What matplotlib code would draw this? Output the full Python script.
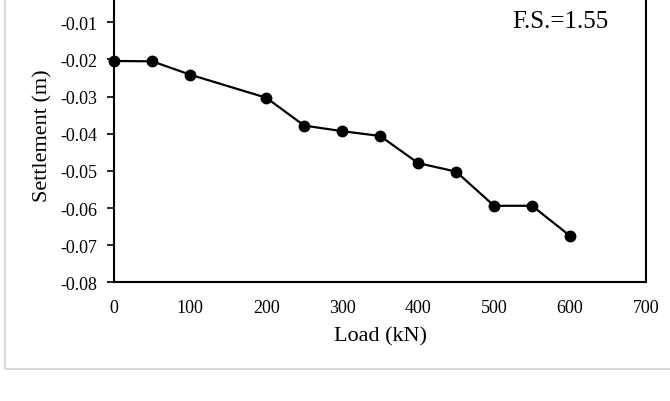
import numpy as np
import matplotlib
matplotlib.use("Agg")
import matplotlib.pyplot as plt
from matplotlib.patches import Rectangle

# load test data
load_kn = [0, 50, 100, 200, 250, 300, 350, 400, 450, 500, 550, 600]
settlement_m = [-0.0204, -0.0205, -0.0241, -0.0303, -0.0378, -0.0393,
                -0.0406, -0.0479, -0.0502, -0.0594, -0.0594, -0.0675]
x_ticks = [0, 100, 200, 300, 400, 500, 600, 700]
y_ticks = [-0.08, -0.07, -0.06, -0.05, -0.04, -0.03, -0.02, -0.01]
fs_label = "F.S.=1.55"

plt.rcParams['font.family'] = ['Liberation Serif', 'DejaVu Serif']

W, H = 670, 402
fig = plt.figure(figsize=(W / 100, H / 100), dpi=100)

# light grey frame around the chart area (partly cropped, like the source)
frame = Rectangle((4.5 / W, 32 / H), 1.2, 1.2, transform=fig.transFigure,
                  facecolor='none', edgecolor='#d9d9d9', linewidth=1.5, zorder=-5)
fig.patches.append(frame)

# axes top (y=0) sits above the picture edge, as in the cropped source
left, right, bottom, top = 114.3, 646.0, 283.3, -13.8
ax = fig.add_axes([left / W, 1 - bottom / H, (right - left) / W, (bottom - top) / H])
ax.patch.set_alpha(0)
ax.plot(load_kn, settlement_m, color='black', linewidth=1.6,
        marker='o', markersize=7.5, clip_on=False, zorder=3)

ax.set_xlim(0, 700)
ax.set_ylim(-0.08, 0.0)
ax.set_xticks(x_ticks)
ax.set_yticks(y_ticks)
ax.set_xticklabels([str(v) for v in x_ticks])
ax.set_yticklabels([f"{v:.2f}" for v in y_ticks])

ax.tick_params(axis='y', direction='out', length=5, width=1.2, labelsize=13, pad=7)
ax.tick_params(axis='x', length=0, labelsize=13, pad=12)
for sp in ax.spines.values():
    sp.set_linewidth(1.5)

ax.set_xlabel("Load (kN)", fontsize=16, va='center')
ax.xaxis.set_label_coords((380 - left) / (right - left), -(336.7 - bottom) / (bottom - top))
ax.set_ylabel("Settlement (m)", fontsize=16, va='center')
ax.yaxis.set_label_coords(-(left - 43) / (right - left), (bottom - 136) / (bottom - top))

ax.text((608 - left) / (right - left), (bottom - 22) / (bottom - top), fs_label,
        transform=ax.transAxes, ha='right', va='center', fontsize=18)

fig.savefig("out.png", dpi=100)
